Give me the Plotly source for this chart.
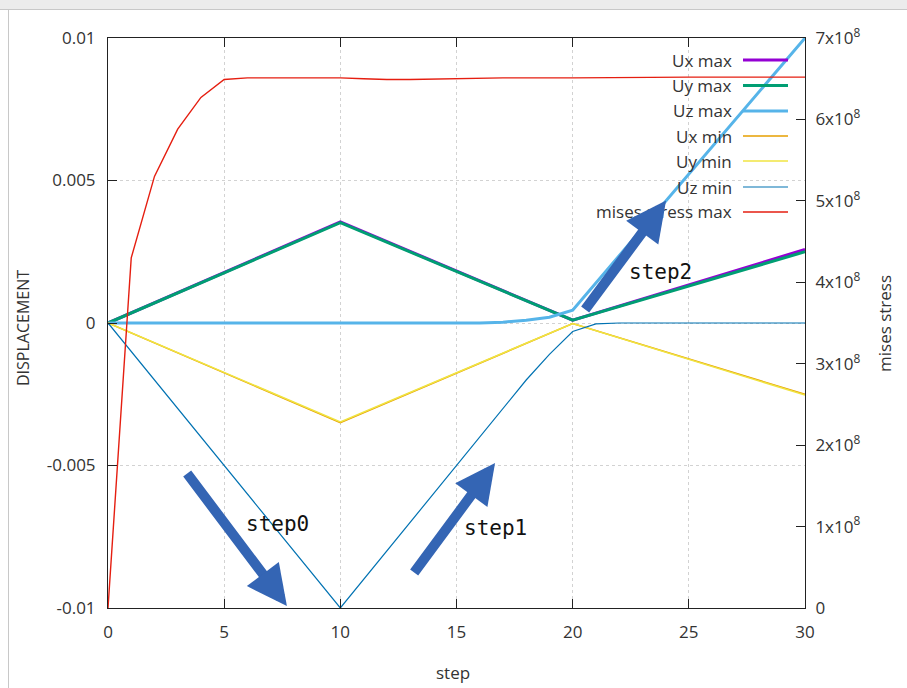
import plotly.graph_objects as go

# ---- data ----
ux_max_x = [0, 10, 20, 30]
ux_max_y = [0, 0.00355, 0.0001, 0.00258]
uy_max_x = [0, 10, 20, 30]
uy_max_y = [0, 0.00352, 0.0001, 0.0025]
uz_max_x = [0, 16, 17, 18, 19, 20, 30]
uz_max_y = [0, 0, 0.00003, 0.0001, 0.0002, 0.00045, 0.01]
ux_min_x = [0, 10, 20, 30]
ux_min_y = [0, -0.0035, -0.00002, -0.0025]
uy_min_x = [0, 10, 20, 30]
uy_min_y = [0, -0.00347, -0.00002, -0.00253]
uz_min_x = [0, 10, 18, 19, 20, 21, 22, 30]
uz_min_y = [0, -0.01, -0.002, -0.0011, -0.0003, -0.00003, 0, 0]
mises_x = [0, 1, 2, 3, 4, 5, 6, 10, 11, 12, 13, 15, 17, 20, 25, 30]
mises_y = [0, 4.3e8, 5.3e8, 5.88e8, 6.27e8, 6.49e8, 6.51e8, 6.51e8, 6.50e8,
           6.49e8, 6.49e8, 6.50e8, 6.51e8, 6.51e8, 6.52e8, 6.52e8]

series_names = ["Ux max", "Uy max", "Uz max", "Ux min", "Uy min", "Uz min", "mises stress max"]
series_colors = ["#9400d3", "#009e73", "#56b4e9", "#e69f00", "#f0e442", "#0072b2", "#e51e10"]
series_widths = [3, 3, 3, 1.5, 1.5, 1.2, 1.4]

x_ticks = [0, 5, 10, 15, 20, 25, 30]
y_ticks = [-0.01, -0.005, 0, 0.005, 0.01]
y_ticktext = ["-0.01", "-0.005", "0", "0.005", "0.01"]
y2_ticks = [0, 1e8, 2e8, 3e8, 4e8, 5e8, 6e8, 7e8]
y2_ticktext = ["0"] + [f"{i}x10<sup>8</sup>" for i in range(1, 8)]

# arrow annotations: (tail_x, tail_y, head_x, head_y), labels
arrows = [(3.36, -0.00523, 7.70, -0.00993),
          (13.13, -0.00881, 16.66, -0.00491),
          (20.49, 0.00042, 24.02, 0.00430)]
step_labels = ["step0", "step1", "step2"]
step_label_pos = [(7.28, -0.00705), (16.66, -0.00719), (23.76, 0.00179)]

W, H = 907, 688
L, R, T, B = 108, 102, 38, 80
PW, PH = W - L - R, H - T - B

def px(xp):
    return (xp - L) / PW

def py(yp):
    return (H - B - yp) / PH

fig = go.Figure()
xs = [ux_max_x, uy_max_x, uz_max_x, ux_min_x, uy_min_x, uz_min_x, mises_x]
ys = [ux_max_y, uy_max_y, uz_max_y, ux_min_y, uy_min_y, uz_min_y, mises_y]
for i in range(7):
    fig.add_trace(go.Scatter(
        x=xs[i], y=ys[i], mode="lines", name=series_names[i],
        line=dict(color=series_colors[i], width=series_widths[i]),
        yaxis="y2" if i == 6 else "y", showlegend=False))

font = "Open Sans, Noto Sans, sans-serif"
tickfont = dict(family=font, size=17, color="#333")

annotations = []
shapes = []

# manual legend (text left of sample line)
leg_y = [60, 85.5, 111, 136, 161, 187, 212]
for i in range(7):
    annotations.append(dict(
        xref="paper", yref="paper", x=px(734), y=py(leg_y[i]),
        xanchor="right", yanchor="middle", text=series_names[i], showarrow=False,
        font=dict(family=font, size=17, color="#333")))
    shapes.append(dict(
        type="line", xref="paper", yref="paper",
        x0=px(743), x1=px(788), y0=py(leg_y[i]), y1=py(leg_y[i]),
        line=dict(color=series_colors[i], width=series_widths[i])))

for (tx, ty, hx, hy) in arrows:
    annotations.append(dict(
        x=hx, y=hy, ax=tx, ay=ty, xref="x", yref="y", axref="x", ayref="y",
        text="", showarrow=True, arrowhead=2, arrowsize=0.8, arrowwidth=10,
        arrowcolor="#3465b4", standoff=0))

for lab, (lx, ly) in zip(step_labels, step_label_pos):
    annotations.append(dict(
        x=lx, y=ly, xref="x", yref="y", text=lab, showarrow=False,
        xanchor="center", yanchor="middle",
        font=dict(family="DejaVu Sans Mono", size=21, color="#111")))

# axis titles
annotations.append(dict(xref="paper", yref="paper", x=px(23), y=py(328),
                        text="DISPLACEMENT", textangle=-90, showarrow=False,
                        xanchor="center", yanchor="middle",
                        font=dict(family=font, size=16, color="#333")))
annotations.append(dict(xref="paper", yref="paper", x=px(884), y=py(324),
                        text="mises stress", textangle=-90, showarrow=False,
                        xanchor="center", yanchor="middle",
                        font=dict(family=font, size=17, color="#333")))
annotations.append(dict(xref="paper", yref="paper", x=px(453), y=py(672),
                        text="step", showarrow=False,
                        xanchor="center", yanchor="middle",
                        font=dict(family=font, size=17, color="#333")))

# window frame of the screenshot
shapes.append(dict(type="rect", xref="paper", yref="paper",
                   x0=px(0), x1=px(W), y0=py(9), y1=py(0),
                   fillcolor="#ececec", line=dict(width=0), layer="below"))
shapes.append(dict(type="line", xref="paper", yref="paper",
                   x0=px(0), x1=px(W), y0=py(9.5), y1=py(9.5),
                   line=dict(color="#c8c8c8", width=1)))
shapes.append(dict(type="line", xref="paper", yref="paper",
                   x0=px(8.5), x1=px(8.5), y0=py(9.5), y1=py(H),
                   line=dict(color="#c8c8c8", width=1)))

fig.update_layout(
    width=W, height=H,
    margin=dict(l=L, r=R, t=T, b=B),
    paper_bgcolor="white", plot_bgcolor="white",
    showlegend=False,
    xaxis=dict(range=[0, 30], tickvals=x_ticks, ticks="inside", ticklen=9,
               tickcolor="#222", showline=True, linecolor="#222", linewidth=1,
               mirror="ticks", showgrid=True, gridcolor="#d2d2d2", griddash="dot",
               gridwidth=1, zeroline=False, tickfont=tickfont, ticklabelstandoff=9),
    yaxis=dict(range=[-0.01, 0.01], tickvals=y_ticks, ticktext=y_ticktext,
               ticks="inside", ticklen=9, tickcolor="#222", showline=True,
               linecolor="#222", linewidth=1, mirror=True, showgrid=True,
               gridcolor="#d2d2d2", griddash="dot", gridwidth=1, zeroline=False,
               tickfont=tickfont, ticklabelstandoff=8),
    yaxis2=dict(range=[0, 7e8], tickvals=y2_ticks, ticktext=y2_ticktext,
                overlaying="y", side="right", ticks="inside", ticklen=9,
                tickcolor="#222", showline=True, linecolor="#222", linewidth=1,
                showgrid=False, zeroline=False, tickfont=tickfont,
                ticklabelstandoff=6),
    annotations=annotations, shapes=shapes,
)

fig.write_html("out.html", config={"displayModeBar": False},
               post_script="document.body.style.margin='0px';")
